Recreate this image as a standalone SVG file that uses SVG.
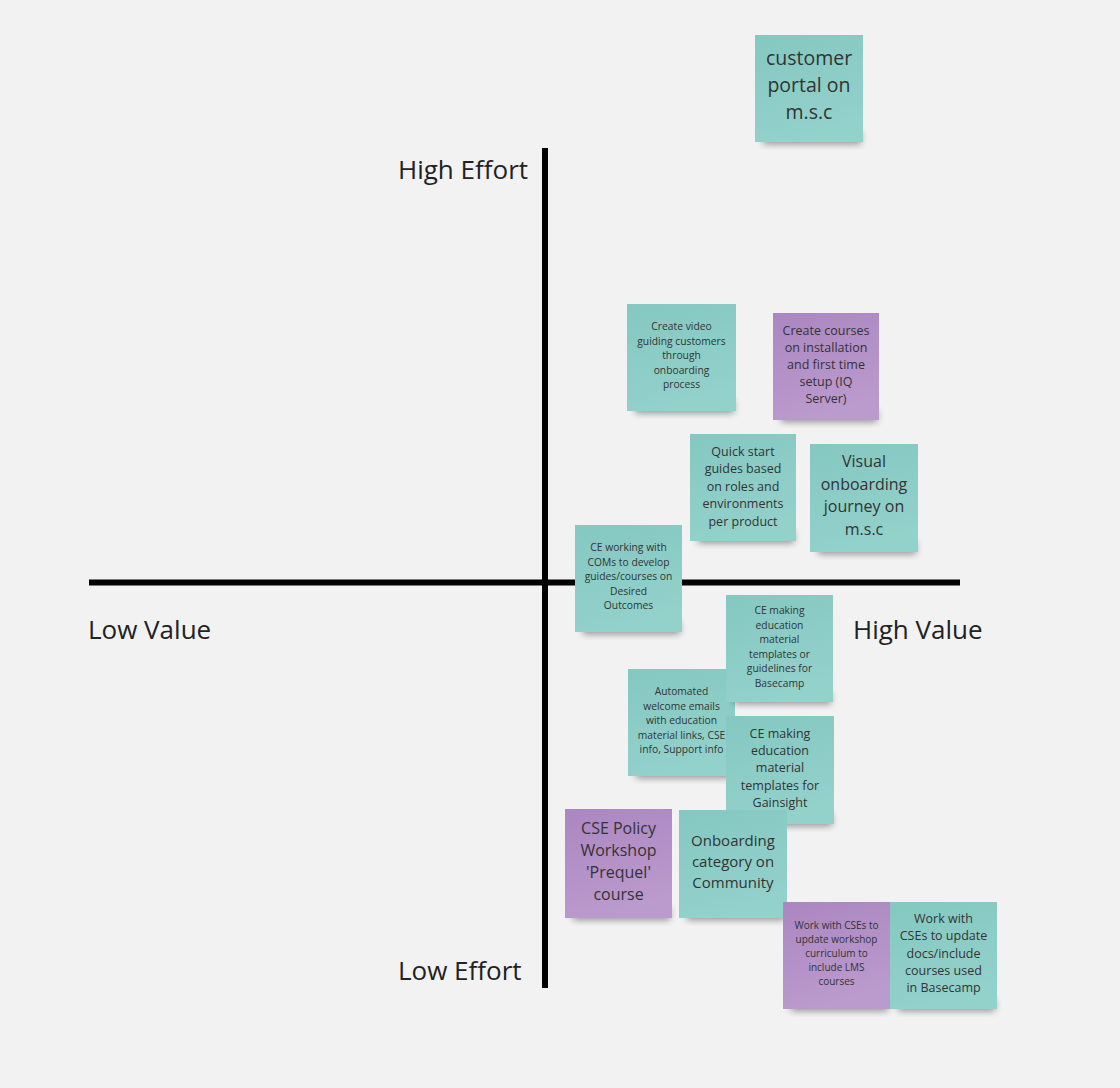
<svg xmlns="http://www.w3.org/2000/svg" width="1120" height="1088" viewBox="0 0 1120 1088">
<defs>
<linearGradient id="gT" x1="0" y1="0" x2="0.3" y2="1"><stop offset="0" stop-color="#84c8c1"/><stop offset="1" stop-color="#93d1cb"/></linearGradient>
<linearGradient id="gP" x1="0" y1="0" x2="0.3" y2="1"><stop offset="0" stop-color="#ab86c1"/><stop offset="1" stop-color="#bb9acd"/></linearGradient>
<filter id="blur" x="-20%" y="-50%" width="140%" height="200%"><feGaussianBlur stdDeviation="3.5"/></filter>
<style>
.lbl{font-family:"Open Sans","Noto Sans",sans-serif;fill:#222;font-size:26px}
.t{font-family:"Open Sans","Noto Sans",sans-serif;fill:#333;text-anchor:middle}
.teal{fill:url(#gT)}
.purple{fill:url(#gP)}
.sh{fill:#000;opacity:0.4;filter:url(#blur)}
.ax{stroke:#000;stroke-width:6;fill:none}
</style>
</defs>
<rect width="1120" height="1088" fill="#f2f2f2"/>
<g id="axes">
<line class="ax" x1="89" y1="582.5" x2="960" y2="582.5"/>
<line class="ax" x1="545" y1="148" x2="545" y2="988"/>
</g>
<g id="labels">
<text class="lbl" x="398" y="179">High Effort</text>
<text class="lbl" x="398" y="980">Low Effort</text>
<text class="lbl" x="88" y="639">Low Value</text>
<text class="lbl" x="853" y="639">High Value</text>
</g>
<g id="n1">
<rect class="sh" x="763" y="132" width="98" height="12"/>
<rect class="teal" x="755" y="35" width="108" height="107"/>
<text class="t" font-size="19.5"><tspan x="809" y="65">customer</tspan><tspan x="809" y="92">portal on</tspan><tspan x="809" y="119">m.s.c</tspan></text>
</g>
<g id="n2">
<rect class="sh" x="635" y="401" width="99" height="12"/>
<rect class="teal" x="627" y="304" width="109" height="107"/>
<text class="t" font-size="10.3"><tspan x="681.5" y="330">Create video</tspan><tspan x="681.5" y="344.5">guiding customers</tspan><tspan x="681.5" y="359">through</tspan><tspan x="681.5" y="373.5">onboarding</tspan><tspan x="681.5" y="388">process</tspan></text>
</g>
<g id="n3">
<rect class="sh" x="781" y="410" width="96" height="12"/>
<rect class="purple" x="773" y="313" width="106" height="107"/>
<text class="t" font-size="12.5"><tspan x="826" y="334.5">Create courses</tspan><tspan x="826" y="351.5">on installation</tspan><tspan x="826" y="368.5">and first time</tspan><tspan x="826" y="385.5">setup (IQ</tspan><tspan x="826" y="402.5">Server)</tspan></text>
</g>
<g id="n4">
<rect class="sh" x="698" y="531" width="96" height="12"/>
<rect class="teal" x="690" y="434" width="106" height="107"/>
<text class="t" font-size="12.5"><tspan x="743" y="455.5">Quick start</tspan><tspan x="743" y="473">guides based</tspan><tspan x="743" y="490.5">on roles and</tspan><tspan x="743" y="508">environments</tspan><tspan x="743" y="525.5">per product</tspan></text>
</g>
<g id="n5">
<rect class="sh" x="818" y="542" width="98" height="12"/>
<rect class="teal" x="810" y="444" width="108" height="108"/>
<text class="t" font-size="16"><tspan x="864" y="467">Visual</tspan><tspan x="864" y="489.5">onboarding</tspan><tspan x="864" y="512">journey on</tspan><tspan x="864" y="534.5">m.s.c</tspan></text>
</g>
<g id="n6">
<rect class="sh" x="583" y="622" width="97" height="12"/>
<rect class="teal" x="575" y="525" width="107" height="107"/>
<text class="t" font-size="10.3"><tspan x="628.5" y="551">CE working with</tspan><tspan x="628.5" y="565.5">COMs to develop</tspan><tspan x="628.5" y="580">guides/courses on</tspan><tspan x="628.5" y="594.5">Desired</tspan><tspan x="628.5" y="609">Outcomes</tspan></text>
</g>
<g id="n8">
<rect class="sh" x="636" y="766" width="97" height="12"/>
<rect class="teal" x="628" y="669" width="107" height="107"/>
<text class="t" font-size="10.3"><tspan x="681.5" y="695">Automated</tspan><tspan x="681.5" y="709.5">welcome emails</tspan><tspan x="681.5" y="724">with education</tspan><tspan x="681.5" y="738.5">material links, CSE</tspan><tspan x="681.5" y="753">info, Support info</tspan></text>
</g>
<g id="n7">
<rect class="sh" x="734" y="692" width="97" height="12"/>
<rect class="teal" x="726" y="595" width="107" height="107"/>
<text class="t" font-size="10.3"><tspan x="779.5" y="614">CE making</tspan><tspan x="779.5" y="628.5">education</tspan><tspan x="779.5" y="643">material</tspan><tspan x="779.5" y="657.5">templates or</tspan><tspan x="779.5" y="672">guidelines for</tspan><tspan x="779.5" y="686.5">Basecamp</tspan></text>
</g>
<g id="n9">
<rect class="sh" x="734" y="814" width="98" height="12"/>
<rect class="teal" x="726" y="716" width="108" height="108"/>
<text class="t" font-size="12.5"><tspan x="780" y="737.5">CE making</tspan><tspan x="780" y="755">education</tspan><tspan x="780" y="772">material</tspan><tspan x="780" y="789.5">templates for</tspan><tspan x="780" y="806.5">Gainsight</tspan></text>
</g>
<g id="n10">
<rect class="sh" x="573" y="908" width="97" height="12"/>
<rect class="purple" x="565" y="809" width="107" height="109"/>
<text class="t" font-size="16"><tspan x="618.5" y="833.5">CSE Policy</tspan><tspan x="618.5" y="855.5">Workshop</tspan><tspan x="618.5" y="877.5">'Prequel'</tspan><tspan x="618.5" y="899.5">course</tspan></text>
</g>
<g id="n11">
<rect class="sh" x="687" y="908" width="98" height="12"/>
<rect class="teal" x="679" y="810" width="108" height="108"/>
<text class="t" font-size="15"><tspan x="733" y="845.5">Onboarding</tspan><tspan x="733" y="866.5">category on</tspan><tspan x="733" y="887.5">Community</tspan></text>
</g>
<g id="n12">
<rect class="sh" x="791" y="999" width="97" height="12"/>
<rect class="purple" x="783" y="902" width="107" height="107"/>
<text class="t" font-size="10"><tspan x="836.5" y="928.5">Work with CSEs to</tspan><tspan x="836.5" y="942.5">update workshop</tspan><tspan x="836.5" y="956.5">curriculum to</tspan><tspan x="836.5" y="970.5">include LMS</tspan><tspan x="836.5" y="985">courses</tspan></text>
</g>
<g id="n13">
<rect class="sh" x="898" y="999" width="97" height="12"/>
<rect class="teal" x="890" y="902" width="107" height="107"/>
<text class="t" font-size="12.5"><tspan x="943.5" y="922.5">Work with</tspan><tspan x="943.5" y="940">CSEs to update</tspan><tspan x="943.5" y="957.5">docs/include</tspan><tspan x="943.5" y="975">courses used</tspan><tspan x="943.5" y="992">in Basecamp</tspan></text>
</g>
<g id="connectors"/>
</svg>
